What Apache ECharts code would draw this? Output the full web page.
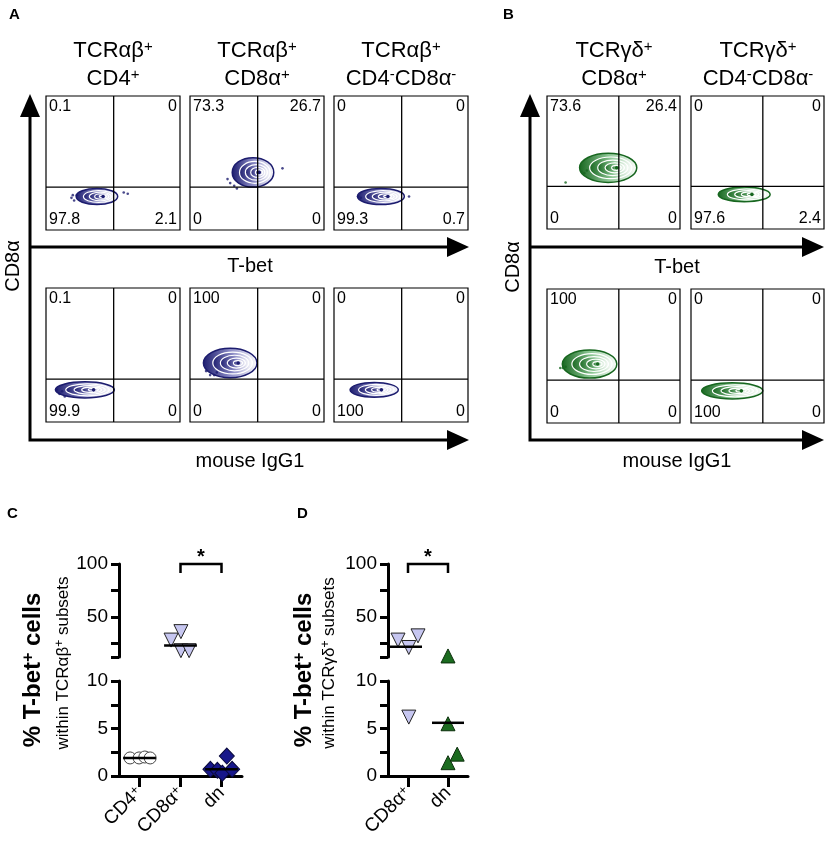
<!DOCTYPE html>
<html>
<head>
<meta charset="UTF-8">
<title>T-bet in TCRab / TCRgd subsets</title>
<script src="https://cdn.jsdelivr.net/npm/echarts@6/dist/echarts.min.js"></script>
<style>
  html, body { margin: 0; background: #fff; }
  #main { width: 829px; height: 857px; }
</style>
</head>
<body>
<div id="main"></div>
<script>
// ---------- data: flow plots (A, B) ----------
// quadrant percentages [upper-left, upper-right, lower-left, lower-right]
var quadTopA = [[0.1, 0, 97.8, 2.1], [73.3, 26.7, 0, 0], [0, 0, 99.3, 0.7]];
var quadBotA = [[0.1, 0, 99.9, 0], [100, 0, 0, 0], [0, 0, 100, 0]];
var quadTopB = [[73.6, 26.4, 0, 0], [0, 0, 97.6, 2.4]];
var quadBotB = [[100, 0, 0, 0], [0, 0, 100, 0]];
// populations: [centre x, centre y, width, height] on the 0-100 plot scale
var blobTopA = [[38, 25, 31, 12], [47, 43, 31, 22], [35, 25, 35, 12]];
var blobBotA = [[29, 24, 44, 12], [30, 44, 40, 22], [30, 24, 36, 11]];
var blobTopB = [[46, 46, 43, 22], [40, 26, 39, 11]];
var blobBotB = [[32, 44, 41, 21], [31, 24, 46, 12]];
// stray events
var dotsTopA = [[[19, 24], [21, 22], [23, 26], [20, 26], [58, 28], [61, 27]],
                [[28, 38], [30, 35], [33, 33], [35, 31], [69, 46]],
                [[18, 25], [20, 24], [56, 25]]];
var dotsBotA = [[[8, 24], [10, 21], [12, 23], [14, 19]], [[12, 38], [15, 35], [18, 35], [20, 37]], []];
var dotsTopB = [[[14, 35], [26, 43], [28, 42], [30, 44]], []];
var dotsBotB = [[[10, 41], [12, 41], [14, 42]], []];
// gates [x, y]
var gateA = [50.5, 32];
var gateB = [54, 32];

var titlesA = [['TCRαβ{s|+}', 'CD4{s|+}'], ['TCRαβ{s|+}', 'CD8α{s|+}'], ['TCRαβ{s|+}', 'CD4{s|-}CD8α{s|-}']];
var titlesB = [['TCRγδ{s|+}', 'CD8α{s|+}'], ['TCRγδ{s|+}', 'CD4{s|-}CD8α{s|-}']];

// ---------- data: dot plots (C, D) ----------
var cCats = ['CD4{s|+}', 'CD8α{s|+}', 'dn'];
var cCD4 = [[0.27, 1.9], [0.49, 1.9], [0.63, 2.0], [0.76, 1.9]];
var cCD8 = [[1.27, 28], [1.51, 36], [1.51, 18], [1.71, 18]];
var cDN = [[2.23, 0.7], [2.40, 0.6], [2.52, 0.3], [2.63, 2.1], [2.76, 0.7]];
var cMedian = [[0.5, 1.9], [1.5, 23], [2.5, 0.7]];
var cSig = [[1.5, 2.5]];

var dCats = ['CD8α{s|+}', 'dn'];
var dCD8 = [[0.25, 28], [0.52, 21], [0.75, 32], [0.52, 6.2]];
var dDN = [[1.5, 13], [1.5, 5.5], [1.5, 1.4], [1.73, 2.3]];
var dMedian = [[0.45, 21.7], [1.5, 5.6]];
var dSig = [[0.5, 1.5]];

var upperTicks = [12, 25, 50, 75, 100];
var upperLabels = [50, 100];
var lowerTicks = [0, 2.5, 5, 7.5, 10];
var lowerLabels = [0, 5, 10];
var BREAK = 10;

// ---------- styles ----------
var FONT = '"Liberation Sans", Arial, sans-serif';
var NAVY = { dark: '#1c1c6e', mid: '#8c8cc6' };
var GREEN = { dark: '#17661f', mid: '#8cc694' };
var RINGS = [1, 0.74, 0.53, 0.34, 0.17];

var chart = echarts.init(document.getElementById('main'));
var grids = [], xAxes = [], yAxes = [], series = [], graphics = [];

function txt(x, y, text, size, opts) {
  opts = opts || {};
  graphics.push({
    type: 'text', x: x, y: y, rotation: opts.rot || 0, z: 10,
    style: {
      text: text, fill: '#000',
      font: (opts.bold ? 'bold ' : '') + size + 'px ' + FONT,
      align: opts.align || 'center', verticalAlign: opts.va || 'middle',
      rich: { s: { fontSize: Math.round(size * 0.68), fontFamily: FONT, fontWeight: opts.bold ? 'bold' : 'normal', verticalAlign: 'top', padding: [0, 0, Math.round(size * 0.35), 0] } }
    }
  });
}

function blobRender(theme) {
  return function (params, api) {
    var c = api.coord([api.value(0), api.value(1)]);
    var s = api.size([api.value(2), api.value(3)]);
    var rx = s[0] / 2, ry = s[1] / 2;
    var kids = RINGS.map(function (k, i) {
      return {
        type: 'ellipse',
        shape: { cx: c[0] + rx * 0.35 * (1 - k), cy: c[1], rx: rx * k, ry: ry * k },
        style: {
          fill: { type: 'linear', x: 0, y: 0, x2: 1, y2: 0,
            colorStops: [{ offset: 0, color: theme.dark }, { offset: 0.5, color: theme.mid }, { offset: 1, color: '#fff' }] },
          stroke: i === 0 ? theme.dark : '#fff',
          lineWidth: i === 0 ? 1.5 : 1.2
        }
      };
    });
    kids.push({ type: 'circle', shape: { cx: c[0] + rx * 0.35 * 0.85, cy: c[1], r: 1.8 }, style: { fill: theme.dark } });
    return { type: 'group', children: kids };
  };
}

function gateRender(params, api) {
  var p = api.coord([api.value(0), api.value(1)]);
  var cs = params.coordSys;
  var ls = { stroke: '#000', lineWidth: 1.3 };
  return { type: 'group', children: [
    { type: 'line', shape: { x1: p[0], y1: cs.y, x2: p[0], y2: cs.y + cs.height }, style: ls },
    { type: 'line', shape: { x1: cs.x, y1: p[1], x2: cs.x + cs.width, y2: p[1] }, style: ls }
  ] };
}

function addFlow(left, top, w, h, quad, blob, dots, gate, theme) {
  var gi = grids.length;
  grids.push({ left: left, top: top, width: w, height: h, show: true, borderColor: '#000', borderWidth: 1.2, backgroundColor: '#fff' });
  xAxes.push({ gridIndex: gi, type: 'value', min: 0, max: 100, show: false });
  yAxes.push({ gridIndex: gi, type: 'value', min: 0, max: 100, show: false });
  series.push({ type: 'custom', coordinateSystem: 'cartesian2d', xAxisIndex: gi, yAxisIndex: gi,
    data: [blob], renderItem: blobRender(theme), silent: true, z: 2 });
  series.push({ type: 'scatter', xAxisIndex: gi, yAxisIndex: gi, data: dots, symbolSize: 2.6,
    itemStyle: { color: theme.dark }, silent: true, z: 3 });
  series.push({ type: 'custom', coordinateSystem: 'cartesian2d', xAxisIndex: gi, yAxisIndex: gi,
    data: [gate], renderItem: gateRender, silent: true, z: 4 });
  var fs = 16;
  txt(left + 3, top + 3, String(quad[0]), fs, { align: 'left', va: 'top' });
  txt(left + w - 3, top + 3, String(quad[1]), fs, { align: 'right', va: 'top' });
  txt(left + 3, top + h - 2, String(quad[2]), fs, { align: 'left', va: 'bottom' });
  txt(left + w - 3, top + h - 2, String(quad[3]), fs, { align: 'right', va: 'bottom' });
}

// panel A
var colA = [46, 190, 334];
colA.forEach(function (x, i) {
  addFlow(x, 96, 134, 134, quadTopA[i], blobTopA[i], dotsTopA[i], gateA, NAVY);
  addFlow(x, 288, 134, 134, quadBotA[i], blobBotA[i], dotsBotA[i], gateA, NAVY);
  txt(x + 67, 51, titlesA[i][0], 22);
  txt(x + 67, 79, titlesA[i][1], 22);
});
// panel B
var colB = [547, 691];
colB.forEach(function (x, i) {
  addFlow(x, 96, 133, 133, quadTopB[i], blobTopB[i], dotsTopB[i], gateB, GREEN);
  addFlow(x, 289, 133, 134, quadBotB[i], blobBotB[i], dotsBotB[i], gateB, GREEN);
  txt(x + 67, 51, titlesB[i][0], 22);
  txt(x + 67, 79, titlesB[i][1], 22);
});

// arrows
function arrows(x0, xTip, yTop, yMid, yBot) {
  var ls = { stroke: '#000', lineWidth: 3 };
  graphics.push({ type: 'polyline', shape: { points: [[x0, 112], [x0, yBot], [xTip - 18, yBot]] }, style: Object.assign({ fill: null }, ls) });
  graphics.push({ type: 'line', shape: { x1: x0, y1: yMid, x2: xTip - 18, y2: yMid }, style: ls });
  graphics.push({ type: 'polygon', shape: { points: [[x0, yTop], [x0 - 10, yTop + 23], [x0 + 10, yTop + 23]] }, style: { fill: '#000' } });
  [yMid, yBot].forEach(function (y) {
    graphics.push({ type: 'polygon', shape: { points: [[xTip, y], [xTip - 22, y - 10], [xTip - 22, y + 10]] }, style: { fill: '#000' } });
  });
}
arrows(30, 469, 94, 247, 440);
arrows(530, 824, 94, 247, 440);
txt(250, 266, 'T-bet', 20);
txt(250, 461, 'mouse IgG1', 20);
txt(677, 267, 'T-bet', 20);
txt(677, 461, 'mouse IgG1', 20);
txt(13, 266, 'CD8α', 20, { rot: Math.PI / 2 });
txt(513, 267, 'CD8α', 20, { rot: Math.PI / 2 });

// panel letters
txt(9, 7, 'A', 15, { bold: true, align: 'left', va: 'top' });
txt(503, 7, 'B', 15, { bold: true, align: 'left', va: 'top' });
txt(7, 506, 'C', 15, { bold: true, align: 'left', va: 'top' });
txt(297, 506, 'D', 15, { bold: true, align: 'left', va: 'top' });

// ---------- dot plots with broken y axis ----------
var RICH = { s: { fontSize: 13, fontFamily: FONT, verticalAlign: 'top', padding: [0, 0, 6, 0] } };

function medianRender(params, api) {
  var a = api.coord([api.value(0) - 0.4, api.value(1)]);
  var b = api.coord([api.value(0) + 0.4, api.value(1)]);
  return { type: 'line', shape: { x1: a[0], y1: a[1], x2: b[0], y2: b[1] }, style: { stroke: '#000', lineWidth: 2.5 } };
}
function sigRender(params, api) {
  var a = api.coord([api.value(0), 100]);
  var b = api.coord([api.value(1), 100]);
  return { type: 'group', children: [
    { type: 'polyline', shape: { points: [[a[0], a[1] + 9], [a[0], a[1]], [b[0], b[1]], [b[0], b[1] + 9]] }, style: { stroke: '#000', fill: null, lineWidth: 2.5 } },
    { type: 'text', x: (a[0] + b[0]) / 2, y: a[1] - 7, style: { text: '*', font: 'bold 20px ' + FONT, fill: '#000', align: 'center', verticalAlign: 'middle' } }
  ] };
}

function addDotPlot(left, width, xmax, cats, groups, medians, sig) {
  var gu = grids.length, gl = gu + 1;
  grids.push({ left: left, top: 564, width: width, height: 93 });
  grids.push({ left: left, top: 681, width: width, height: 95 });
  var axisCommon = { axisLine: { show: true, onZero: false, lineStyle: { color: '#000', width: 3 } }, splitLine: { show: false } };
  var catPos = cats.map(function (c, i) { return i + 0.5; });
  xAxes.push({ gridIndex: gu, type: 'value', min: 0, max: xmax, show: false });
  xAxes.push(Object.assign({ gridIndex: gl, type: 'value', min: 0, max: xmax,
    axisTick: { show: true, customValues: catPos, length: 11, lineStyle: { color: '#000', width: 3 } },
    axisLabel: { customValues: catPos, rotate: 45, margin: 14, fontSize: 19, fontFamily: FONT, color: '#000', rich: RICH,
      formatter: function (v) { return cats[Math.round(v - 0.5)]; } } }, axisCommon));
  yAxes.push(Object.assign({ gridIndex: gu, type: 'value', min: upperTicks[0], max: 100,
    axisTick: { show: true, customValues: upperTicks, length: 8, lineStyle: { color: '#000', width: 3 } },
    axisLabel: { customValues: upperLabels, fontSize: 19, fontFamily: FONT, color: '#000', margin: 11 } }, axisCommon));
  yAxes.push(Object.assign({ gridIndex: gl, type: 'value', min: 0, max: BREAK,
    axisTick: { show: true, customValues: lowerTicks, length: 8, lineStyle: { color: '#000', width: 3 } },
    axisLabel: { customValues: lowerLabels, fontSize: 19, fontFamily: FONT, color: '#000', margin: 11 } }, axisCommon));

  groups.forEach(function (g) {
    [[gu, function (p) { return p[1] > BREAK; }], [gl, function (p) { return p[1] <= BREAK; }]].forEach(function (seg) {
      series.push({ type: 'scatter', xAxisIndex: seg[0], yAxisIndex: seg[0], data: g.data.filter(seg[1]),
        symbol: g.symbol, symbolSize: g.size, symbolRotate: g.rotate || 0,
        itemStyle: { color: g.color, borderColor: g.border, borderWidth: 1, opacity: 1 }, z: 3, silent: true });
    });
  });
  [[gu, function (p) { return p[1] > BREAK; }], [gl, function (p) { return p[1] <= BREAK; }]].forEach(function (seg) {
    series.push({ type: 'custom', coordinateSystem: 'cartesian2d', xAxisIndex: seg[0], yAxisIndex: seg[0],
      data: medians.filter(seg[1]), renderItem: medianRender, z: 5, silent: true });
  });
  series.push({ type: 'custom', coordinateSystem: 'cartesian2d', xAxisIndex: gu, yAxisIndex: gu,
    data: sig, renderItem: sigRender, clip: false, z: 5, silent: true });
}

addDotPlot(119, 123, 3, cCats, [
  { data: cCD4, symbol: 'circle', size: 12, color: '#fff', border: '#444' },
  { data: cCD8, symbol: 'triangle', size: 14, rotate: 180, color: '#c6c6f0', border: '#222' },
  { data: cDN, symbol: 'diamond', size: [15, 16], color: '#17178a', border: '#0a0a3c' }
], cMedian, cSig);
addDotPlot(388, 80, 2, dCats, [
  { data: dCD8, symbol: 'triangle', size: 14, rotate: 180, color: '#c6c6f0', border: '#222' },
  { data: dDN, symbol: 'triangle', size: 14, color: '#1b6b1f', border: '#0b2e0b' }
], dMedian, dSig);

txt(33, 670, '% T-bet{s|+} cells', 24, { bold: true, rot: Math.PI / 2 });
txt(63, 663, 'within TCRαβ{s|+} subsets', 17, { rot: Math.PI / 2 });
txt(304, 670, '% T-bet{s|+} cells', 24, { bold: true, rot: Math.PI / 2 });
txt(329, 663, 'within TCRγδ{s|+} subsets', 17, { rot: Math.PI / 2 });

chart.setOption({
  animation: false,
  backgroundColor: '#fff',
  grid: grids,
  xAxis: xAxes,
  yAxis: yAxes,
  series: series,
  graphic: { elements: graphics }
});
</script>
</body>
</html>
